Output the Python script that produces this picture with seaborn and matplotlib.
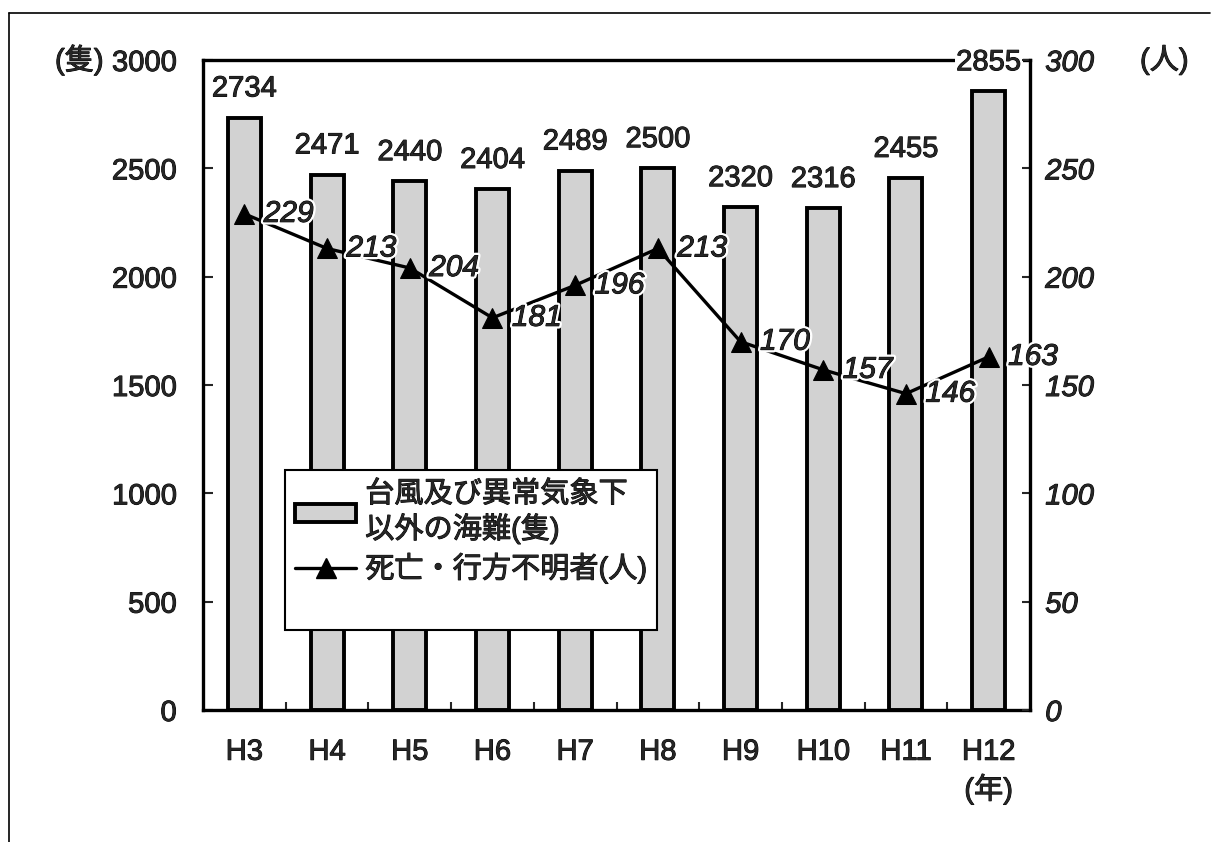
import matplotlib
matplotlib.use('Agg')
import matplotlib.pyplot as plt
import seaborn as sns
import numpy as np
import pandas as pd
from matplotlib.patches import Rectangle
from matplotlib.lines import Line2D
import matplotlib.patheffects as pe

# ---- data ----
years = ["H3", "H4", "H5", "H6", "H7", "H8", "H9", "H10", "H11", "H12"]
accidents = [2734, 2471, 2440, 2404, 2489, 2500, 2320, 2316, 2455, 2855]
deaths = [229, 213, 204, 181, 196, 213, 170, 157, 146, 163]
left_ticks = [0, 500, 1000, 1500, 2000, 2500, 3000]
right_ticks = [0, 50, 100, 150, 200, 250, 300]
bar_label = "台風及び異常気象下\n以外の海難(隻)"
line_label = "死亡・行方不明者(人)"
left_unit = "(隻)"
right_unit = "(人)"
x_unit = "(年)"

sns.set_style("white")
plt.rcParams['font.family'] = ['Liberation Sans', 'Noto Sans CJK JP', 'DejaVu Sans']

heavy = [pe.Stroke(linewidth=0.7, foreground='black'), pe.Normal()]

W, H = 1218, 842
fig = plt.figure(figsize=(W / 100, H / 100), dpi=100)
ax = fig.add_axes([203 / W, 132 / H, 827 / W, 650 / H])

pos = np.arange(len(years))
df = pd.DataFrame({'pos': pos, 'n': accidents})
bar_color = '#d2d2d2'
sns.barplot(data=df, x='pos', y='n', ax=ax, native_scale=True, color=bar_color,
            saturation=1, width=0.4, edgecolor='black', linewidth=2.8, zorder=2)
ax.set_xlim(-0.5, len(years) - 0.5)
ax.set_ylim(0, 3000)
ax.set_yticks(left_ticks)
ax.set_yticklabels([str(t) for t in left_ticks])
ax.set_xticks(pos)
ax.set_xticklabels(years)
ax.set_xticks(pos[:-1] + 0.5, minor=True)
ax.set_xlabel('')
ax.set_ylabel('')
ax.tick_params(axis='x', which='major', length=0, pad=20, labelsize=21)
ax.tick_params(axis='x', which='minor', direction='in', length=6, width=1.5, bottom=True)
ax.tick_params(axis='y', direction='in', length=7, width=1.5, pad=19, labelsize=21, left=True)
for s in ['left', 'bottom', 'top']:
    ax.spines[s].set_linewidth(2.4)
    ax.spines[s].set_color('black')
ax.spines['right'].set_visible(False)
ax.grid(False)
for t in ax.get_xticklabels() + ax.get_yticklabels():
    t.set_path_effects(heavy)

for i, v in enumerate(accidents):
    ax.annotate(str(v), xy=(i, v), xytext=(0, 21), textcoords='offset points',
                ha='center', va='center', fontsize=21, zorder=5, path_effects=heavy,
                bbox=dict(boxstyle='square,pad=0.05', fc='white', ec='none'))

ax2 = ax.twinx()
sns.lineplot(x=pos, y=deaths, ax=ax2, color='black', linewidth=2.4, marker='^',
             markersize=14, markeredgecolor='black', markerfacecolor='black')
ax2.set_ylim(0, 300)
ax2.set_yticks(right_ticks)
ax2.set_yticklabels([str(t) for t in right_ticks], fontstyle='italic')
ax2.set_ylabel('')
ax2.tick_params(axis='y', direction='in', length=6, width=1.5, pad=11, labelsize=21, right=True)
for s in ['left', 'bottom', 'top']:
    ax2.spines[s].set_visible(False)
ax2.spines['right'].set_linewidth(2.4)
ax2.spines['right'].set_color('black')
ax2.grid(False)
for t in ax2.get_yticklabels():
    t.set_path_effects(heavy)

for i, d in enumerate(deaths):
    ax2.annotate(str(d), xy=(i, d), xytext=(14, 0), textcoords='offset points',
                 ha='left', va='center', fontsize=21.5, fontstyle='italic', zorder=6,
                 path_effects=[pe.withStroke(linewidth=4, foreground='white'),
                               pe.Stroke(linewidth=0.7, foreground='black'), pe.Normal()])

# unit labels
fig.text(55 / W, 1 - 60 / H, left_unit, ha='left', va='center', fontsize=21, path_effects=heavy)
fig.text(1140 / W, 1 - 60 / H, right_unit, ha='left', va='center', fontsize=21, path_effects=heavy)
ax.annotate(x_unit, xy=(len(years) - 1, 0), xycoords=('data', 'axes fraction'),
            xytext=(0, -57), textcoords='offset points', ha='center', va='center',
            fontsize=21, annotation_clip=False, path_effects=heavy)

# legend
handles = [Rectangle((0, 0), 1, 1, fc=bar_color, ec='black', lw=2.8),
           Line2D([], [], color='black', lw=2.4, marker='^', markersize=14),
           Line2D([], [], color='none')]
labels = [bar_label, line_label, ' ']
leg = ax2.legend(handles, labels, loc='upper left', bbox_to_anchor=(82 / 827, 240 / 650),
                 borderaxespad=0, fontsize=21, frameon=True, fancybox=False,
                 edgecolor='black', framealpha=1, handlelength=2.1, handleheight=0.6,
                 handletextpad=0.3, borderpad=0.35, labelspacing=0.3)
leg.get_frame().set_linewidth(1.5)
leg.set_zorder(10)
for t in leg.get_texts():
    t.set_path_effects(heavy)

# outer frame lines
fig.add_artist(Line2D([9 / W, 9 / W], [0, 1 - 13 / H], transform=fig.transFigure, color='black', lw=1.2))
fig.add_artist(Line2D([9 / W, 1210 / W], [1 - 13 / H, 1 - 13 / H], transform=fig.transFigure, color='black', lw=1.2))

fig.savefig('out.png', dpi=100, facecolor='white')
